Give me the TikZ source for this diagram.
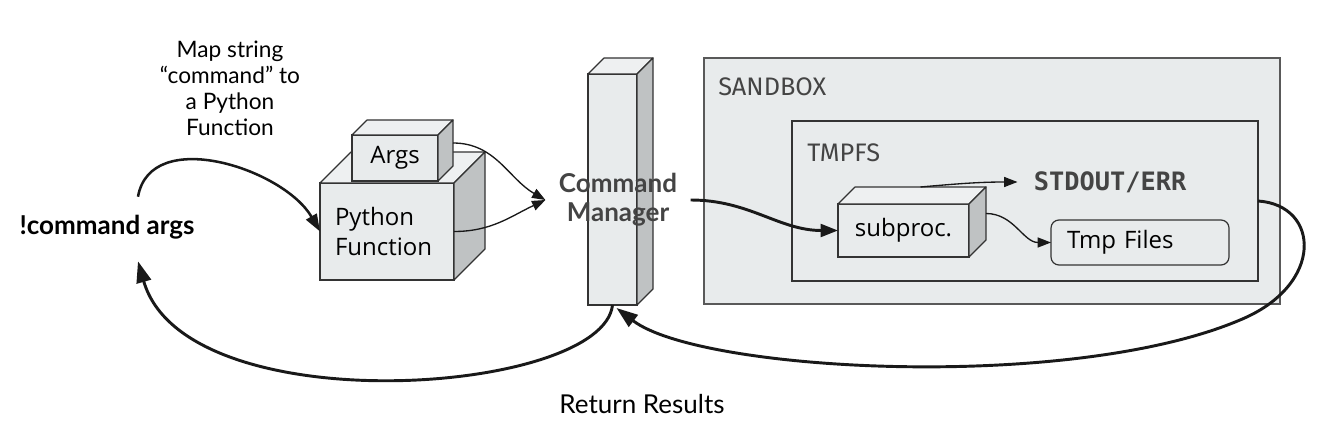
\documentclass[tikz,border=0pt]{standalone}
\usepackage{fontspec}
\setmainfont{Lato}
\newfontfamily\boxfont{Open Sans}
\newfontfamily\framefont{Fira Sans}
\newfontfamily\codefont{DejaVu Sans Mono}
\usetikzlibrary{positioning, arrows.meta}

\definecolor{FaceGray}{HTML}{E8EBEC}
\definecolor{TopGray}{HTML}{EEF0F1}
\definecolor{SideGray}{HTML}{BFC2C3}
\definecolor{EdgeGray}{HTML}{333333}
\definecolor{TextGray}{HTML}{444444}

% top and right faces of a box, #2 = depth
\newcommand{\cubefaces}[2]{%
  \filldraw[CubeFace, fill=TopGray] (#1.north west) -- ([shift={(#2,-#2)}]#1.north west)
    -- ([shift={(#2,-#2)}]#1.north east) -- (#1.north east) -- cycle;
  \filldraw[CubeFace, fill=SideGray] (#1.north east) -- ([shift={(#2,-#2)}]#1.north east)
    -- ([shift={(#2,-#2)}]#1.south east) -- (#1.south east) -- cycle;}

\begin{document}
\begin{tikzpicture}[x=0.75pt, y=-0.75pt,
CubeFace/.style={draw=EdgeGray, line width=0.9pt, line join=round},
CubeStyle/.style={draw=EdgeGray, fill=FaceGray, line width=0.9pt, inner sep=0pt,
                outer sep=0pt, font=\boxfont\fontsize{18}{22.5}\selectfont},
FrameStyle/.style={draw=#1, fill=FaceGray, line width=0.9pt, inner sep=0pt, outer sep=0pt},
FrameTitle/.style={anchor=west, inner sep=0pt, text=TextGray,
                font=\framefont\fontsize{19}{22}\selectfont},
ArrowThick/.style={line width=2.2pt, draw=black!90, -{Triangle[length=16pt, width=11pt]}},
ArrowThin/.style={line width=1pt, draw=black!90, -{Triangle[length=10pt, width=7.5pt]}},
]
\useasboundingbox (0,0) rectangle (1320,442);

% sandbox
\node [FrameStyle=black!65, minimum width=432pt, minimum height=184.5pt] (sandbox) at (992,181) {};
\node [FrameTitle] (sbtitle) at (718,87) {SANDBOX};
\node [FrameStyle=EdgeGray, minimum width=349.5pt, minimum height=120pt] (tmpfs) at (1025,201) {};
\node [FrameTitle] (tmptitle) at (807,153) {TMPFS};

\node [CubeStyle, minimum width=98.25pt, minimum height=39.75pt] (subproc) at (903.5,230.5) {subproc.};
\cubefaces{subproc}{17}
\node [draw=EdgeGray, fill=FaceGray, line width=0.9pt, rounded corners=6pt, outer sep=0pt,
       inner xsep=12pt, inner ysep=0pt, text width=109.5pt, align=left, minimum height=33.75pt,
       font=\boxfont\fontsize{18}{22}\selectfont] (tmpfiles) at (1140,242.5) {Tmp Files};
\node [inner xsep=12pt, text=TextGray, font=\codefont\bfseries\fontsize{19}{22}\selectfont]
      (stdout) at (1110,182) {STDOUT/ERR};

% python side
\node [font=\bfseries\fontsize{19.5}{22}\selectfont, minimum height=45pt] (cmdargs) at (107,227) {!command args};
\node [align=center, font=\fontsize{17}{19.5}\selectfont] (maplabel) at (230,88)
      {Map string\\``command'' to\\a Python\\Function};
\node [CubeStyle, text width=78pt, inner xsep=11.25pt, align=left, minimum height=72.75pt]
      (pyfunc) at (387,231.5) {Python\\Function};
\cubefaces{pyfunc}{31}
\node [CubeStyle, minimum width=64.5pt, minimum height=34.5pt] (args) at (395,158) {Args};
\cubefaces{args}{15}

% command manager
\node [CubeStyle, minimum width=36.75pt, minimum height=173.25pt] (cmdmgr) at (612.5,189.5) {};
\cubefaces{cmdmgr}{16}
\node [align=center, inner xsep=10pt, text=TextGray, font=\bfseries\fontsize{19.5}{22}\selectfont]
      (cmdlabel) at (618,200) {Command\\Manager};

\node [font=\fontsize{19.5}{22}\selectfont] (retlabel) at (642,404) {Return Results};

% connectors
\draw [ArrowThick, line width=1.9pt, -{Triangle[length=13pt, width=9pt]}]
      ([shift={(31,0)}]cmdargs.north) to[out=80, in=120] (pyfunc.west);
\draw [ArrowThin] ([shift={(15,-15)}]args.east) to[out=0, in=150] (cmdlabel.west);
\draw [ArrowThin] (pyfunc.east) to[out=0, in=205] (cmdlabel.west);
\draw [ArrowThick, -{Triangle[length=13pt, width=9.5pt]}] (cmdlabel.east) to[out=0, in=180] (subproc.west);
\draw [ArrowThin] ([shift={(17,-17)}]subproc.north) to[out=5, in=180] (stdout.west);
\draw [ArrowThin] ([shift={(17,-17)}]subproc.east) to[out=0, in=180] (tmpfiles.west);
\draw [ArrowThick] (tmpfs.east) .. controls (1320,205) and (1325,285) .. (1240,320)
      .. controls (1070,392) and (700,372) .. ([shift={(4,3)}]cmdmgr.south);
\draw [ArrowThick] (cmdmgr.south) .. controls (603,395) and (185,425) .. ([shift={(31,4)}]cmdargs.south);
\end{tikzpicture}
\end{document}
